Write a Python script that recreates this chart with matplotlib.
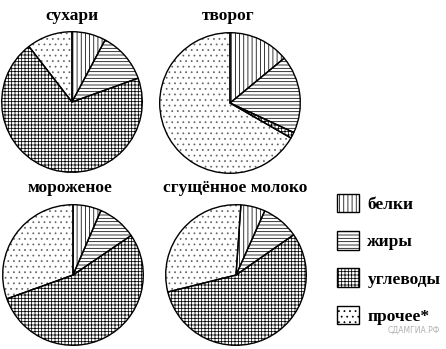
import matplotlib
matplotlib.use("Agg")
import matplotlib.pyplot as plt
from matplotlib.patches import Patch

plt.rcParams['hatch.linewidth'] = 0.55

titles = ["сухари", "творог", "мороженое", "сгущённое молоко"]
categories = ["белки", "жиры", "углеводы", "прочее*"]
# percentages: белки, жиры, углеводы, прочее
values = [
    [7.8, 11.7, 70.0, 10.5],
    [14.0, 17.9, 1.4, 66.7],
    [6.5, 9.0, 54.0, 30.5],
    [5.6, 8.6, 55.8, 30.0],
]
hatches = ['||||', '-----', '+++++', '...']
hatch_colors = ['black', 'black', 'black', '#666666']

W, H = 446, 349
fig = plt.figure(figsize=(W / 100, H / 100), dpi=100)

R = 71
centers = [(72, 102), (230, 103), (73, 275), (236, 275)]
startangles = [90, 90, 90, 86]
title_pos = [(72, 16), (228, 16), (70, 188), (235, 188)]

serif = ['Liberation Serif', 'DejaVu Serif']

for vals, (cx, cy), sa, title, (tx, ty) in zip(values, centers, startangles, titles, title_pos):
    ax = fig.add_axes([(cx - R) / W, (H - cy - R) / H, 2 * R / W, 2 * R / H])
    wedges, _ = ax.pie(vals, startangle=sa, counterclock=False, radius=1,
                       colors=['white'] * 4,
                       wedgeprops=dict(linewidth=0))
    for w, h, hc in zip(wedges, hatches, hatch_colors):
        w.set_hatch(h)
        w.set_edgecolor(hc)
    # black outlines on top
    ax.pie(vals, startangle=sa, counterclock=False, radius=1,
           wedgeprops=dict(fill=False, edgecolor='black', linewidth=1.0))
    ax.set_xlim(-1.01, 1.01)
    ax.set_ylim(-1.01, 1.01)
    ax.set_aspect('equal')
    ax.axis('off')
    fig.text(tx / W, 1 - ty / H, title, ha='center', va='center',
             fontsize=12.5, fontweight='bold', family=serif)

handles = [Patch(facecolor='white', edgecolor='black', hatch=h, linewidth=1.0) for h in hatches]
leg = fig.legend(handles, categories, loc='upper left',
                 bbox_to_anchor=(337 / W, 1 - 194 / H),
                 frameon=False,
                 prop=dict(family=serif, weight='bold', size=12.5),
                 handlelength=1.25, handleheight=1.25, labelspacing=1.05,
                 handletextpad=0.5, borderpad=0, borderaxespad=0)

fig.text(440 / W, 1 - 330 / H, "СДАМГИА.РФ", ha='right', va='center',
         fontsize=5.5, color='#b0b0b0', family='DejaVu Sans')

fig.savefig("out.png", dpi=100)
